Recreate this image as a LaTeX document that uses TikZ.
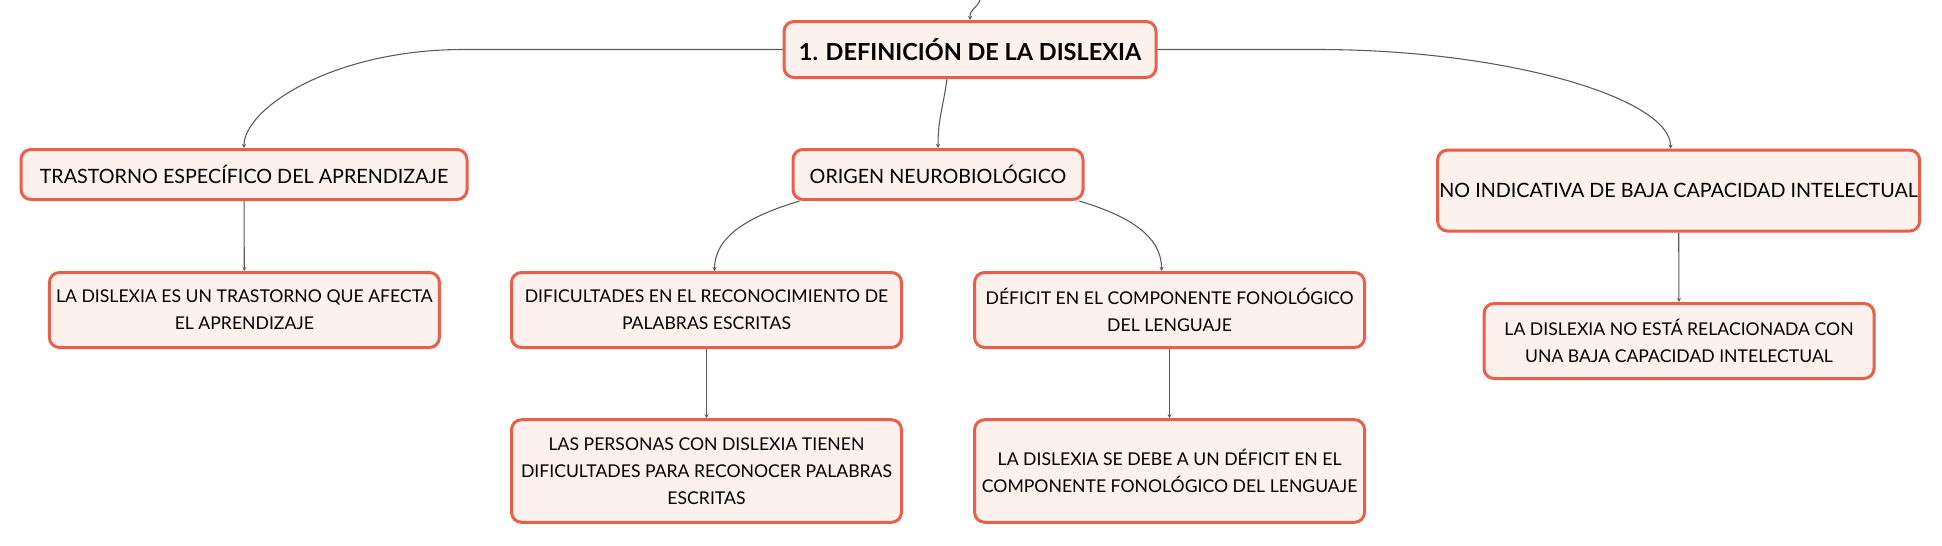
\documentclass[tikz,border=0pt]{standalone}
\usepackage{fontspec}
\setmainfont{Lato}
\usetikzlibrary{arrows.meta}

\definecolor{boxline}{HTML}{E8604C}
\definecolor{boxfill}{HTML}{FDF1EE}
\definecolor{linkgray}{HTML}{5A5A5A}

\tikzset{
  box/.style={draw=boxline, fill=boxfill, line width=2.25pt, rounded corners=7.5pt,
    align=center, inner sep=0pt},
  title/.style={box, minimum width=279pt, minimum height=42pt,
    font=\fontsize{17.6}{20}\selectfont\bfseries},
  head/.style={box, minimum height=37.5pt, font=\fontsize{14.8}{20}\selectfont},
  leaf/.style={box, minimum width=292.5pt, minimum height=56.25pt,
    font=\fontsize{13.2}{20.2}\selectfont},
  link/.style={draw=linkgray, line width=0.8pt, -{Stealth[length=3pt,width=3pt]}},
}

\begin{document}
\begin{tikzpicture}[x=0.75pt,y=-0.75pt]
  \useasboundingbox (0,0) rectangle (1942,546);

  \coordinate (top) at (980,0);
  \node[title] (def) at (970,49.5) {1. DEFINICIÓN DE LA DISLEXIA};

  \node[head, minimum width=334.5pt] (trast) at (244,174.5) {TRASTORNO ESPECÍFICO DEL APRENDIZAJE};
  \node[head, minimum width=217.5pt] (origen) at (938,174.5) {ORIGEN NEUROBIOLÓGICO};
  \node[head, minimum width=361.5pt, minimum height=60.75pt] (noind) at (1678.6,190.6) {NO INDICATIVA DE BAJA CAPACIDAD INTELECTUAL};

  \node[leaf] (afecta) at (244.4,310) {LA DISLEXIA ES UN TRASTORNO QUE AFECTA\\EL APRENDIZAJE};
  \node[leaf] (dific) at (706.5,310) {DIFICULTADES EN EL RECONOCIMIENTO DE\\PALABRAS ESCRITAS};
  \node[leaf] (defic) at (1169.6,310) {DÉFICIT EN EL COMPONENTE FONOLÓGICO\\DEL LENGUAJE};
  \node[leaf] (norel) at (1679,341) {LA DISLEXIA NO ESTÁ RELACIONADA CON\\UNA BAJA CAPACIDAD INTELECTUAL};

  \node[leaf, minimum height=76.9pt] (perso) at (706.5,471) {LAS PERSONAS CON DISLEXIA TIENEN\\DIFICULTADES PARA RECONOCER PALABRAS\\ESCRITAS};
  \node[leaf, minimum height=76.9pt] (debe) at (1169.6,471) {LA DISLEXIA SE DEBE A UN DÉFICIT EN EL\\COMPONENTE FONOLÓGICO DEL LENGUAJE};

  \draw[link] (top) .. controls +(-4,10) and +(0,-12) .. (def.north);
  \draw[link] (def.west) -- ++(-319,0) .. controls +(-130,0) and +(0,-40) .. (trast.north);
  \draw[link] (def.east) -- ++(160,0) .. controls +(190,0) and +(0,-50) .. ([xshift=-6pt]noind.north);
  \draw[link] (def.-128) .. controls +(-4,30) and +(0,-30) .. (origen.north);

  \draw[link] ([xshift=6pt]origen.south west) .. controls +(-50,15) and +(0,-35) .. ([xshift=6pt]dific.north);
  \draw[link] ([xshift=-4pt]origen.south east) .. controls +(50,15) and +(0,-35) .. ([xshift=-6pt]defic.north);

  \draw[link] (trast) -- (afecta);
  \draw[link] (dific) -- (perso);
  \draw[link] (defic) -- (debe);
  \draw[link] (noind) -- (norel);

\end{tikzpicture}
\end{document}
